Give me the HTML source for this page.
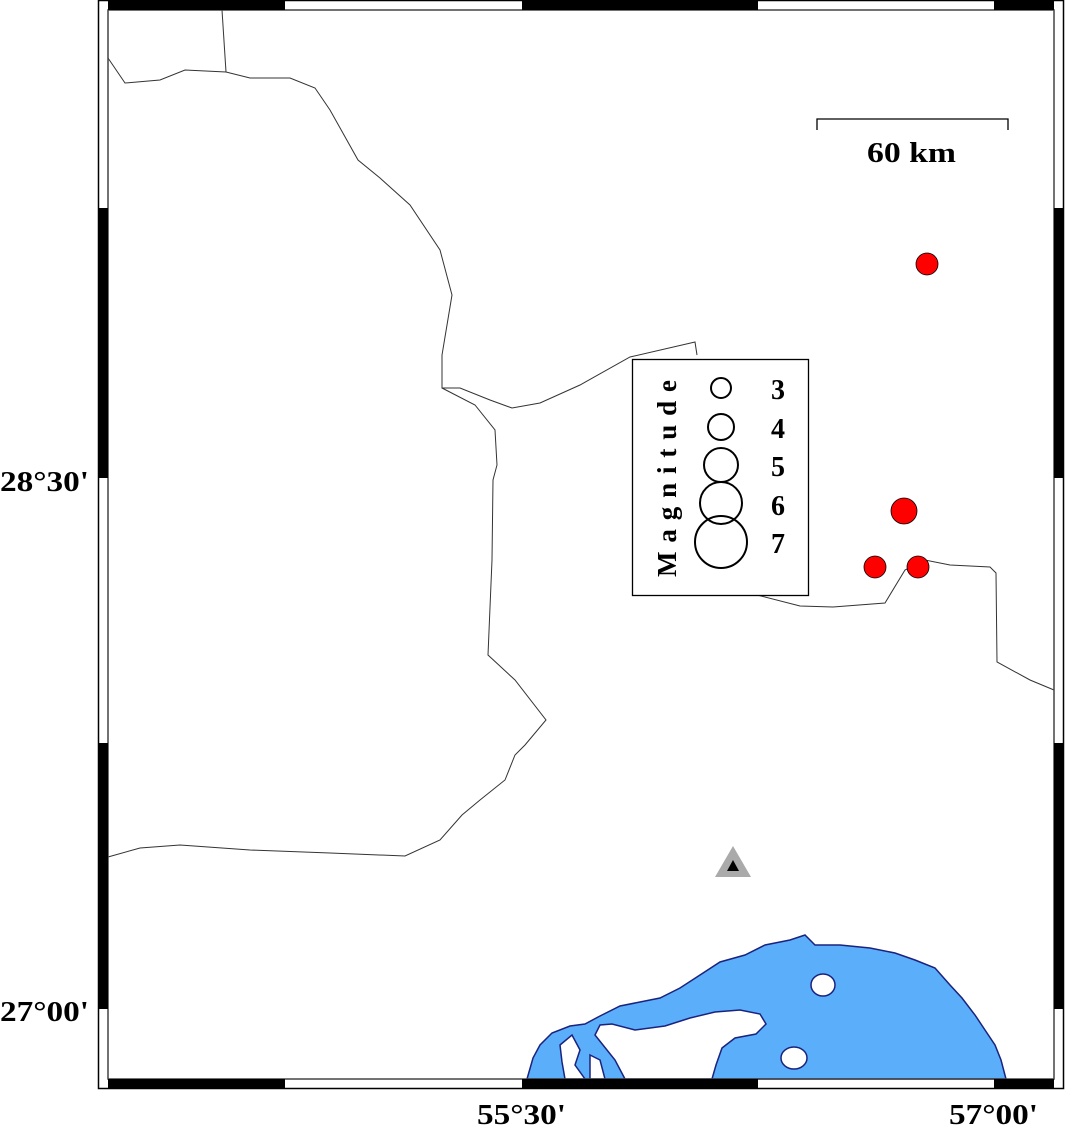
<!DOCTYPE html>
<html><head><meta charset="utf-8"><style>
html,body{margin:0;padding:0;background:#fff;}
svg{display:block;}
text{font-family:"Liberation Serif",serif;font-weight:bold;}
</style></head><body>
<svg width="1066" height="1127" viewBox="0 0 1066 1127" xmlns="http://www.w3.org/2000/svg">
<rect width="1066" height="1127" fill="#fff"/>
<!-- sea -->
<path d="M527,1079 L533,1058 L540,1045 L552,1033 L570,1026 L585,1024 L600,1016 L620,1006 L640,1002 L660,998 L680,988 L700,975 L720,962 L745,955 L765,945 L790,940 L805,935 L815,945 L840,945 L870,948 L895,953 L915,960 L935,968 L950,985 L962,998 L975,1015 L985,1030 L995,1045 L1001,1060 L1006,1079 Z" fill="#5aaefa" stroke="#1a237e" stroke-width="1.5"/>
<!-- peninsula -->
<path d="M595,1035 L600,1025 L612,1024 L635,1030 L665,1026 L690,1018 L715,1012 L740,1010 L760,1014 L766,1024 L756,1034 L735,1038 L722,1048 L716,1065 L712,1079 L625,1079 L615,1060 Z" fill="#fff" stroke="#1a237e" stroke-width="1.5"/>
<path d="M560,1045 L572,1035 L580,1050 L575,1065 L585,1079 L565,1079 L562,1062 Z" fill="#fff" stroke="#1a237e" stroke-width="1.5"/>
<path d="M590,1055 L600,1060 L605,1079 L590,1079 Z" fill="#fff" stroke="#1a237e" stroke-width="1.5"/>
<ellipse cx="823" cy="985" rx="12" ry="11" fill="#fff" stroke="#1a237e" stroke-width="1.5"/>
<ellipse cx="794" cy="1058" rx="13" ry="11" fill="#fff" stroke="#1a237e" stroke-width="1.5"/>
<!-- boundaries -->
<g fill="none" stroke="#333" stroke-width="1">
<path d="M222,10 L226,72"/>
<path d="M108,58 L125,83 L160,80 L185,70 L226,72 L250,78 L290,78 L315,88 L330,110 L358,160 L380,178 L410,205 L440,250 L452,295 L442,355 L442,388 L460,388 L490,400 L512,408 L540,403 L580,385 L630,357 L695,342 L697,355"/>
<path d="M442,388 L475,405 L495,430 L497,465 L493,480 L492,560 L488,655 L515,680 L546,720 L525,745 L515,755 L505,780 L480,800 L462,815 L440,840 L405,856 L330,853 L250,850 L180,845 L140,848 L108,857"/>
<path d="M757,595 L800,606 L833,607 L885,603 L905,570 L925,560 L950,565 L990,567 L996,573 L997,662 L1030,680 L1054,690"/>
</g>
<!-- frame -->
<rect x="98.5" y="0.5" width="965" height="1088" fill="none" stroke="#000" stroke-width="1.5"/>
<rect x="108" y="10" width="946" height="1069" fill="none" stroke="#444" stroke-width="1.5"/>
<g fill="#000">
<rect x="108" y="1" width="177" height="9"/><rect x="522" y="1" width="236" height="9"/><rect x="994" y="1" width="60" height="9"/>
<rect x="108" y="1079" width="177" height="9"/><rect x="522" y="1079" width="236" height="9"/><rect x="994" y="1079" width="60" height="9"/>
<rect x="99" y="208" width="9" height="270"/><rect x="99" y="743" width="9" height="266"/>
<rect x="1054" y="208" width="9" height="270"/><rect x="1054" y="743" width="9" height="266"/>
</g>
<!-- labels -->
<text x="0" y="491" font-size="29" textLength="89" lengthAdjust="spacingAndGlyphs">28°30'</text>
<text x="0" y="1021" font-size="29" textLength="89" lengthAdjust="spacingAndGlyphs">27°00'</text>
<text x="477" y="1124" font-size="29" textLength="89" lengthAdjust="spacingAndGlyphs">55°30'</text>
<text x="949" y="1124" font-size="29" textLength="89" lengthAdjust="spacingAndGlyphs">57°00'</text>
<!-- scale -->
<path d="M817,130 L817,119 L1008,119 L1008,130" fill="none" stroke="#000" stroke-width="1.3"/>
<text x="867" y="162" font-size="28" textLength="89" lengthAdjust="spacingAndGlyphs">60 km</text>
<!-- legend -->
<rect x="632.5" y="359.5" width="176" height="236" fill="#fff" stroke="#000" stroke-width="1.3"/>
<text transform="translate(676,577) rotate(-90)" font-size="27" textLength="197" lengthAdjust="spacing">Magnitude</text>
<g fill="none" stroke="#000" stroke-width="2">
<circle cx="721" cy="388" r="10"/><circle cx="721" cy="427" r="13"/><circle cx="721" cy="465" r="17"/><circle cx="721" cy="503" r="21"/><circle cx="721" cy="542" r="26"/>
</g>
<g font-size="28"><text x="771" y="399">3</text><text x="771" y="438">4</text><text x="771" y="476">5</text><text x="771" y="515">6</text><text x="771" y="553">7</text></g>
<!-- events -->
<g fill="#f00" stroke="#000" stroke-width="0.8">
<circle cx="927" cy="264" r="11"/><circle cx="904" cy="511" r="13"/><circle cx="875" cy="567" r="11"/><circle cx="918" cy="567" r="11"/>
</g>
<!-- station -->
<polygon points="733,846 751,877 715,877" fill="#aaa"/>
<polygon points="733,860 739,871 727,871" fill="#000"/>
</svg>
</body></html>
